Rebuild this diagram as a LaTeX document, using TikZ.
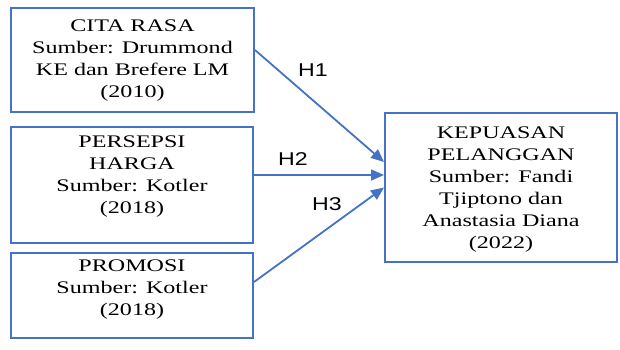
\documentclass[tikz,border=0pt]{standalone}
\usepackage{fontspec}
\setmainfont{Liberation Serif}[FakeStretch=1.36]
\newfontfamily\hfont{Liberation Sans}[FakeStretch=1.25]
\usetikzlibrary{arrows.meta}
\definecolor{boxblue}{HTML}{4472C4}
\tikzset{
	kotak/.style={draw=boxblue, line width=2pt, rectangle, inner sep=0pt},
	isi/.style={align=center, inner sep=0pt, font=\fontsize{17.7}{22}\selectfont},
	panah/.style={draw=boxblue, line width=1.8pt, -{Triangle[length=13pt,width=11pt]}},
	hipo/.style={inner sep=0pt, font=\hfont\fontsize{18.5}{20}\selectfont}
}

\begin{document}
\begin{tikzpicture}[x=1pt, y=-1pt]
		%%%%% START %%%%%
		\useasboundingbox (0, 0) rectangle (620, 349);
		
		% variabel bebas
		\node[kotak, minimum width=243pt, minimum height=104pt] (citarasa) at (132.5, 60) {};
		\node[isi] (citarasa-t) at (132.5, 61) {CITA RASA\\Sumber: Drummond\\KE dan Brefere LM\\(2010)};
		
		\node[kotak, minimum width=242pt, minimum height=116pt] (harga) at (132, 185) {};
		\node[isi] (harga-t) at (132, 177) {PERSEPSI\\HARGA\\Sumber: Kotler\\(2018)};
		
		\node[kotak, minimum width=242pt, minimum height=85pt] (promosi) at (132, 295.5) {};
		\node[isi] (promosi-t) at (132, 290) {PROMOSI\\Sumber: Kotler\\(2018)};
		
		% variabel terikat
		\node[kotak, minimum width=232pt, minimum height=149pt] (kepuasan) at (501, 187.5) {};
		\node[isi] (kepuasan-t) at (501, 189.5) {KEPUASAN\\PELANGGAN\\Sumber: Fandi\\Tjiptono dan\\Anastasia Diana\\(2022)};
		
		% hipotesis
		\draw[panah] ([yshift=10pt]citarasa.east) -- ([yshift=25.5pt]kepuasan.west);
		\draw[panah] ([yshift=10pt]harga.east) -- ([yshift=12.5pt]kepuasan.west);
		\draw[panah] ([yshift=13.5pt]promosi.east) -- (kepuasan.west);
		
		\node[hipo] (h1) at (313, 70) {H1};
		\node[hipo] (h2) at (293, 159) {H2};
		\node[hipo] (h3) at (327, 204) {H3};
		
		%%%%% END %%%%%
	\end{tikzpicture}
\end{document}
